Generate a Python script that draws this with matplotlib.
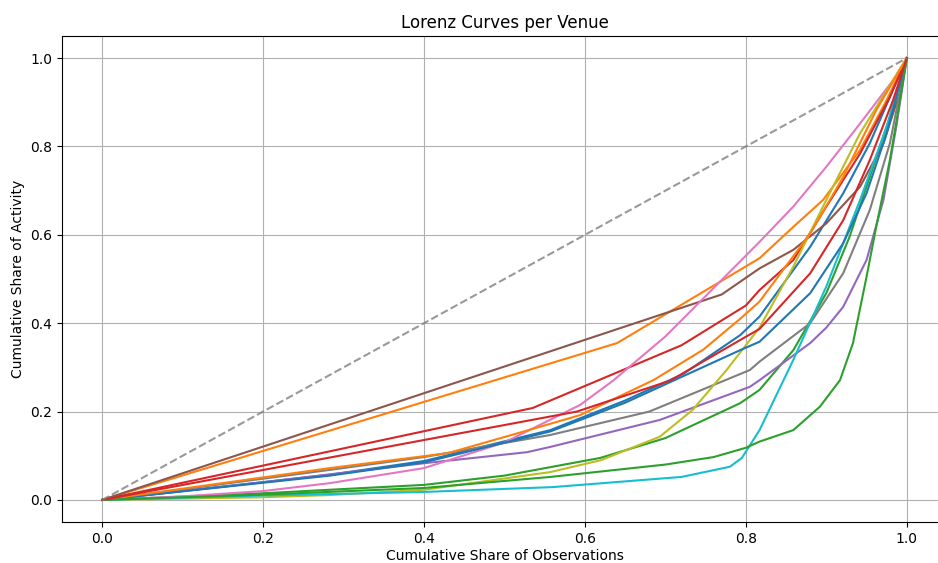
import numpy as np
import matplotlib
matplotlib.use("Agg")
import matplotlib.pyplot as plt

# Lorenz curves (x = cumulative share of observations,
# y = cumulative share of activity), in the order they were drawn
blue_a_x = [0, 0.283, 0.4, 0.557, 0.65, 0.722, 0.793, 0.817, 0.88, 0.921, 0.954, 1]
blue_a_y = [0, 0.057, 0.088, 0.158, 0.225, 0.285, 0.373, 0.415, 0.573, 0.694, 0.807, 1]

orange_a_x = [0, 0.64, 0.817, 0.859, 0.896, 0.942, 0.975, 1]
orange_a_y = [0, 0.355, 0.547, 0.618, 0.679, 0.792, 0.905, 1]

green_a_x = [0, 0.2, 0.283, 0.4, 0.5, 0.619, 0.7, 0.793, 0.817, 0.859, 0.9, 0.929, 0.954, 0.979, 1]
green_a_y = [0, 0.015, 0.023, 0.034, 0.055, 0.095, 0.14, 0.219, 0.249, 0.339, 0.468, 0.596, 0.731, 0.867, 1]

red_a_x = [0, 0.535, 0.72, 0.80, 0.817, 0.859, 0.9, 0.942, 0.979, 1]
red_a_y = [0, 0.208, 0.35, 0.44, 0.475, 0.543, 0.664, 0.784, 0.912, 1]

purple_x = [0, 0.2, 0.4, 0.528, 0.557, 0.693, 0.805, 0.817, 0.88, 0.9, 0.921, 0.95, 0.971, 0.987, 1]
purple_y = [0, 0.04, 0.083, 0.108, 0.12, 0.181, 0.256, 0.271, 0.355, 0.39, 0.437, 0.543, 0.679, 0.845, 1]

brown_x = [0, 0.77, 0.817, 0.859, 0.9, 0.942, 0.971, 0.991, 1]
brown_y = [0, 0.465, 0.524, 0.566, 0.626, 0.709, 0.807, 0.92, 1]

pink_x = [0, 0.1, 0.2, 0.283, 0.4, 0.5, 0.594, 0.635, 0.7, 0.793, 0.817, 0.859, 0.9, 0.942, 0.983, 1]
pink_y = [0, 0.008, 0.02, 0.038, 0.072, 0.13, 0.215, 0.27, 0.37, 0.54, 0.584, 0.664, 0.754, 0.852, 0.95, 1]

gray_x = [0, 0.283, 0.4, 0.557, 0.68, 0.805, 0.817, 0.88, 0.921, 0.954, 0.979, 1]
gray_y = [0, 0.068, 0.097, 0.147, 0.2, 0.294, 0.313, 0.4, 0.513, 0.656, 0.807, 1]

olive_x = [0, 0.2, 0.283, 0.4, 0.557, 0.62, 0.693, 0.734, 0.776, 0.817, 0.859, 0.9, 0.942, 0.983, 1]
olive_y = [0, 0.006, 0.011, 0.023, 0.063, 0.09, 0.143, 0.204, 0.294, 0.39, 0.528, 0.679, 0.83, 0.95, 1]

cyan_x = [0, 0.2, 0.4, 0.56, 0.72, 0.78, 0.795, 0.817, 0.859, 0.9, 0.942, 0.975, 1]
cyan_y = [0, 0.01, 0.018, 0.029, 0.052, 0.075, 0.095, 0.158, 0.317, 0.483, 0.679, 0.845, 1]

blue_b_x = [0, 0.283, 0.4, 0.557, 0.65, 0.722, 0.793, 0.817, 0.88, 0.921, 0.95, 0.975, 1]
blue_b_y = [0, 0.055, 0.085, 0.155, 0.22, 0.28, 0.339, 0.358, 0.468, 0.581, 0.694, 0.83, 1]

orange_b_x = [0, 0.283, 0.43, 0.53, 0.594, 0.685, 0.747, 0.793, 0.817, 0.88, 0.921, 0.962, 1]
orange_b_y = [0, 0.072, 0.106, 0.158, 0.192, 0.271, 0.34, 0.41, 0.449, 0.603, 0.731, 0.882, 1]

green_b_x = [0, 0.2, 0.4, 0.557, 0.7, 0.76, 0.8, 0.817, 0.859, 0.892, 0.917, 0.933, 0.95, 0.962, 0.979, 0.993, 1]
green_b_y = [0, 0.012, 0.027, 0.052, 0.08, 0.097, 0.118, 0.132, 0.158, 0.211, 0.271, 0.354, 0.505, 0.618, 0.769, 0.92, 1]

red_b_x = [0, 0.59, 0.706, 0.793, 0.817, 0.88, 0.921, 0.954, 0.983, 1]
red_b_y = [0, 0.2, 0.27, 0.362, 0.387, 0.513, 0.633, 0.769, 0.905, 1]

curves = [
    (blue_a_x, blue_a_y), (orange_a_x, orange_a_y), (green_a_x, green_a_y),
    (red_a_x, red_a_y), (purple_x, purple_y), (brown_x, brown_y),
    (pink_x, pink_y), (gray_x, gray_y), (olive_x, olive_y), (cyan_x, cyan_y),
    (blue_b_x, blue_b_y), (orange_b_x, orange_b_y), (green_b_x, green_b_y),
    (red_b_x, red_b_y),
]

equality = [0, 1]

fig = plt.figure(figsize=(9.38, 5.63), dpi=100)
# the reference is cut off on the right, so the axes run past the figure edge
ax = fig.add_axes([62 / 938, 41 / 563, 885 / 938, 486 / 563])

for cx, cy in curves:
    ax.plot(cx, cy, linewidth=1.5)

ax.plot(equality, equality, linestyle='--', color='grey', alpha=0.8, linewidth=1.5)

ax.set_xlim(-0.05, 1.05)
ax.set_ylim(-0.05, 1.05)
ax.set_title('Lorenz Curves per Venue')
ax.set_xlabel('Cumulative Share of Observations', labelpad=2)
ax.set_ylabel('Cumulative Share of Activity')
ax.grid(True)

fig.savefig('out.png', dpi=100)
